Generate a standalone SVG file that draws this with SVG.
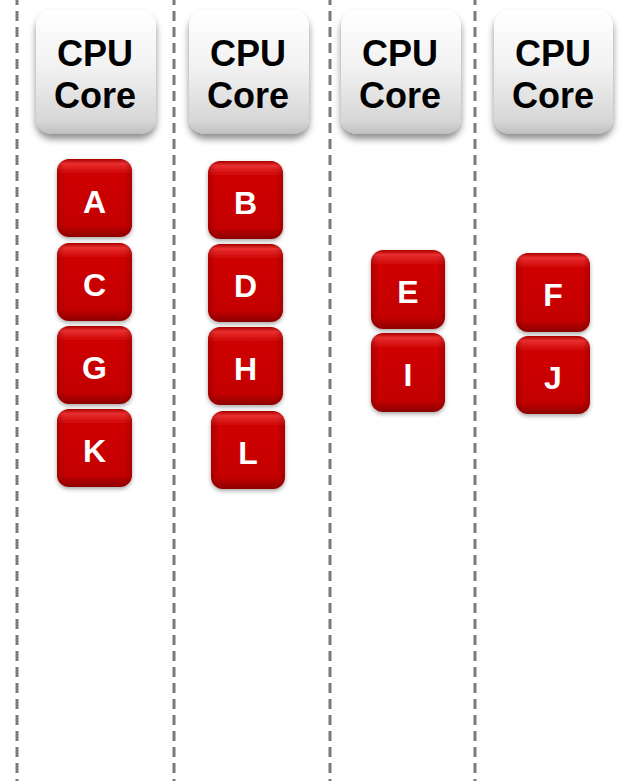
<svg xmlns="http://www.w3.org/2000/svg" width="625" height="781" viewBox="0 0 625 781">
  <defs>
    <linearGradient id="gCore" x1="0" y1="0" x2="0" y2="1">
      <stop offset="0" stop-color="#ffffff"/>
      <stop offset="0.45" stop-color="#f2f2f2"/>
      <stop offset="0.9" stop-color="#d6d6d6"/>
      <stop offset="1" stop-color="#bfbfbf"/>
    </linearGradient>
    <linearGradient id="gRed" x1="0" y1="0" x2="0" y2="1">
      <stop offset="0" stop-color="#a80000"/>
      <stop offset="0.06" stop-color="#e83030"/>
      <stop offset="0.18" stop-color="#cf0505"/>
      <stop offset="0.85" stop-color="#c30000"/>
      <stop offset="1" stop-color="#8c0000"/>
    </linearGradient>
    <linearGradient id="gRedSide" x1="0" y1="0" x2="1" y2="0">
      <stop offset="0" stop-color="#700000" stop-opacity="0.35"/>
      <stop offset="0.1" stop-color="#700000" stop-opacity="0"/>
      <stop offset="0.9" stop-color="#700000" stop-opacity="0"/>
      <stop offset="1" stop-color="#700000" stop-opacity="0.35"/>
    </linearGradient>
    <filter id="shCore" x="-20%" y="-20%" width="140%" height="150%">
      <feDropShadow dx="0" dy="5" stdDeviation="3.5" flood-color="#000" flood-opacity="0.45"/>
    </filter>
    <filter id="shRed" x="-20%" y="-20%" width="140%" height="150%">
      <feDropShadow dx="0" dy="2" stdDeviation="2" flood-color="#000" flood-opacity="0.35"/>
    </filter>
  </defs>
  <style>
    .lane { stroke: #7a7a7a; stroke-width: 3; stroke-dasharray: 10 6; fill: none; }
    .core { fill: url(#gCore); filter: url(#shCore); }
    .coreText { font-family: "Liberation Sans", Arial, sans-serif; font-weight: bold; font-size: 36px; fill: #000; text-anchor: middle; }
    .task { fill: url(#gRed); filter: url(#shRed); }
    .taskSide { fill: url(#gRedSide); }
    .taskText { font-family: "Liberation Sans", Arial, sans-serif; font-weight: bold; font-size: 32px; fill: #fff; text-anchor: middle; }
  </style>
  <rect width="625" height="781" fill="#ffffff"/>
  <g id="lanes">
    <line class="lane" x1="17" y1="-5" x2="17" y2="781"/>
    <line class="lane" x1="174" y1="-5" x2="174" y2="781"/>
    <line class="lane" x1="330" y1="-5" x2="330" y2="781"/>
    <line class="lane" x1="475" y1="-5" x2="475" y2="781"/>
  </g>
  <g id="core1">
    <rect class="core" x="36" y="10" width="120" height="124" rx="16"/>
    <text class="coreText" x="95" y="66">CPU</text>
    <text class="coreText" x="95" y="108">Core</text>
  </g>
  <g id="core2">
    <rect class="core" x="189" y="10" width="120" height="124" rx="16"/>
    <text class="coreText" x="248" y="66">CPU</text>
    <text class="coreText" x="248" y="108">Core</text>
  </g>
  <g id="core3">
    <rect class="core" x="341" y="10" width="120" height="124" rx="16"/>
    <text class="coreText" x="400" y="66">CPU</text>
    <text class="coreText" x="400" y="108">Core</text>
  </g>
  <g id="core4">
    <rect class="core" x="494" y="10" width="119" height="124" rx="16"/>
    <text class="coreText" x="553" y="66">CPU</text>
    <text class="coreText" x="553" y="108">Core</text>
  </g>
  <g id="taskA">
    <rect class="task" x="57" y="159" width="75" height="78" rx="12"/>
    <rect class="taskSide" x="57" y="159" width="75" height="78" rx="12"/>
    <text class="taskText" x="94.5" y="213">A</text>
  </g>
  <g id="taskC">
    <rect class="task" x="57" y="243" width="75" height="78" rx="12"/>
    <rect class="taskSide" x="57" y="243" width="75" height="78" rx="12"/>
    <text class="taskText" x="94.5" y="296">C</text>
  </g>
  <g id="taskG">
    <rect class="task" x="57" y="326" width="75" height="78" rx="12"/>
    <rect class="taskSide" x="57" y="326" width="75" height="78" rx="12"/>
    <text class="taskText" x="94.5" y="379">G</text>
  </g>
  <g id="taskK">
    <rect class="task" x="57" y="409" width="75" height="78" rx="12"/>
    <rect class="taskSide" x="57" y="409" width="75" height="78" rx="12"/>
    <text class="taskText" x="94.5" y="462">K</text>
  </g>
  <g id="taskB">
    <rect class="task" x="208" y="161" width="75" height="78" rx="12"/>
    <rect class="taskSide" x="208" y="161" width="75" height="78" rx="12"/>
    <text class="taskText" x="245.5" y="214">B</text>
  </g>
  <g id="taskD">
    <rect class="task" x="208" y="244" width="75" height="78" rx="12"/>
    <rect class="taskSide" x="208" y="244" width="75" height="78" rx="12"/>
    <text class="taskText" x="245.5" y="297">D</text>
  </g>
  <g id="taskH">
    <rect class="task" x="208" y="327" width="75" height="78" rx="12"/>
    <rect class="taskSide" x="208" y="327" width="75" height="78" rx="12"/>
    <text class="taskText" x="245.5" y="380">H</text>
  </g>
  <g id="taskL">
    <rect class="task" x="211" y="411" width="74" height="78" rx="12"/>
    <rect class="taskSide" x="211" y="411" width="74" height="78" rx="12"/>
    <text class="taskText" x="248" y="464">L</text>
  </g>
  <g id="taskE">
    <rect class="task" x="371" y="250" width="74" height="79" rx="12"/>
    <rect class="taskSide" x="371" y="250" width="74" height="79" rx="12"/>
    <text class="taskText" x="408" y="303">E</text>
  </g>
  <g id="taskI">
    <rect class="task" x="371" y="333" width="74" height="79" rx="12"/>
    <rect class="taskSide" x="371" y="333" width="74" height="79" rx="12"/>
    <text class="taskText" x="408" y="386">I</text>
  </g>
  <g id="taskF">
    <rect class="task" x="516" y="253" width="74" height="79" rx="12"/>
    <rect class="taskSide" x="516" y="253" width="74" height="79" rx="12"/>
    <text class="taskText" x="553" y="306">F</text>
  </g>
  <g id="taskJ">
    <rect class="task" x="516" y="336" width="74" height="78" rx="12"/>
    <rect class="taskSide" x="516" y="336" width="74" height="78" rx="12"/>
    <text class="taskText" x="553" y="389">J</text>
  </g>
</svg>
